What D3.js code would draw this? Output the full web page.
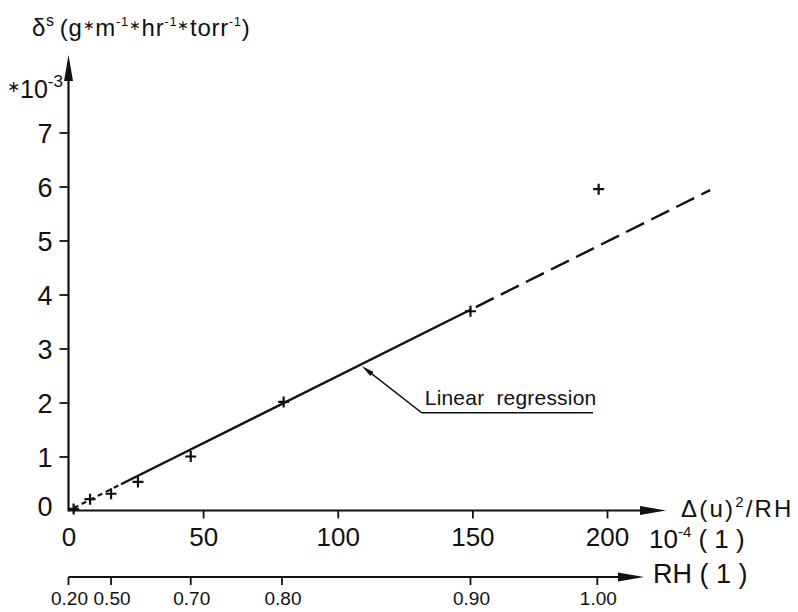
<!DOCTYPE html>
<html>
<head>
<meta charset="utf-8">
<script src="https://cdn.jsdelivr.net/npm/d3@7"></script>
<style>
  body { margin: 0; background: #fff; }
  text { font-family: "Liberation Sans", Arial, sans-serif; fill: #111; }
</style>
</head>
<body>
<svg id="chart" width="798" height="612"></svg>
<script>
// Axis ticks
const xTicks = [0, 50, 100, 150, 200];          // Δ(u)²/RH, units of 10⁻⁴
const yTicks = [0, 1, 2, 3, 4, 5, 6, 7];        // δs, units of 10⁻³
// Secondary relative-humidity scale: label and the Δ(u)²/RH value it sits at
const rhLabels = ["0.20", "0.50", "0.70", "0.80", "0.90", "1.00"];
const rhAt = [0, 15.8, 45.4, 79.3, 149.3, 196.4];
// Measurements
const ratio = [1.9, 8.0, 15.8, 25.8, 45.4, 79.9, 149.3, 196.9];
const delta = [0.03, 0.21, 0.31, 0.53, 1.00, 2.01, 3.69, 5.95];
// Linear regression δs = a + b·Δ(u)²/RH, drawn short-dashed / solid / long-dashed
const regSlope = 0.0249;
const regIntercept = 0.0;
const regBreaks = [1.9, 19.5, 149.3, 238.3];

const svg = d3.select("#chart");
const ink = "#111";
const FONT = '"Liberation Sans", Arial, sans-serif';

const x = d3.scaleLinear().domain([0, 200]).range([68.5, 607]);
const y = d3.scaleLinear().domain([0, 7]).range([510.5, 132.5]);
const x0 = x(0), y0 = y(0);

function arrowHead(g, tipX, tipY, dx, dy, len, half) {
  const px = -dy, py = dx;
  const bx = tipX - dx * len, by = tipY - dy * len;
  g.append("path")
    .attr("d", `M${tipX},${tipY}L${bx + px * half},${by + py * half}L${bx - px * half},${by - py * half}Z`)
    .attr("fill", ink);
}

// ---- main axes with arrows
const axes = svg.append("g");
const xEnd = 666, yTop = 55;
axes.append("line").attr("x1", x0).attr("x2", xEnd - 20).attr("y1", y0).attr("y2", y0)
  .attr("stroke", ink).attr("stroke-width", 2.2);
arrowHead(axes, xEnd, y0, 1, 0, 26, 4.5);
axes.append("line").attr("x1", x0).attr("x2", x0).attr("y1", y0 + 1).attr("y2", yTop + 20)
  .attr("stroke", ink).attr("stroke-width", 2.2);
arrowHead(axes, x0, yTop, 0, -1, 26, 4.5);

// x ticks and labels
const xAxis = d3.axisBottom(x).tickValues(xTicks).tickFormat(d3.format("d"))
  .tickSize(8).tickSizeOuter(0).tickPadding(9);
const gx = svg.append("g").attr("transform", `translate(0,${y0})`).call(xAxis);
gx.select(".domain").remove();
gx.selectAll(".tick line").attr("stroke", ink).attr("stroke-width", 1.8)
  .attr("opacity", d => d === 0 ? 0 : 1);
gx.selectAll(".tick text").attr("fill", ink).style("font-size", "26px").style("font-family", FONT);

// y ticks and labels
const yAxis = d3.axisLeft(y).tickValues(yTicks).tickFormat(d3.format("d"))
  .tickSize(9).tickSizeOuter(0).tickPadding(7);
const gy = svg.append("g").attr("transform", `translate(${x0},0)`).call(yAxis);
gy.select(".domain").remove();
gy.selectAll(".tick line").attr("stroke", ink).attr("stroke-width", 1.8)
  .attr("opacity", d => d === 0 ? 0 : 1);
gy.selectAll(".tick text").attr("fill", ink).style("font-size", "27px").style("font-family", FONT)
  .attr("dy", d => d === 0 ? "0.2em" : "0.36em");

// ---- relative humidity scale below
const rhY = 577, rhEnd = 644;
const rh = svg.append("g");
rh.append("line").attr("x1", x0).attr("x2", rhEnd - 20).attr("y1", rhY).attr("y2", rhY)
  .attr("stroke", ink).attr("stroke-width", 1.8);
arrowHead(rh, rhEnd, rhY, 1, 0, 26, 4.5);
rh.selectAll("line.rt").data(rhAt).join("line").attr("class", "rt")
  .attr("x1", d => x(d)).attr("x2", d => x(d)).attr("y1", rhY).attr("y2", rhY + 8)
  .attr("stroke", ink).attr("stroke-width", 1.8);
rh.selectAll("text.rl").data(rhLabels).join("text").attr("class", "rl")
  .attr("x", (d, i) => x(rhAt[i]) + 1).attr("y", rhY + 28)
  .attr("text-anchor", "middle").style("font-size", "19px").text(d => d);
rh.append("text").attr("x", 653).attr("y", rhY + 6).style("font-size", "27px")
  .attr("xml:space", "preserve").text("RH ( 1 )");

// ---- axis titles built from runs: [text, baseline shift (px, up < 0), size, dx]
function rich(parent, xPos, yPos, size, parts, spacing) {
  const t = parent.append("text").attr("x", xPos).attr("y", yPos)
    .style("font-size", size + "px").attr("xml:space", "preserve");
  if (spacing) t.style("letter-spacing", spacing + "px");
  let shifted = 0;
  parts.forEach(([s, shift, fs, dx]) => {
    const target = shift || 0;
    const ts = t.append("tspan").attr("dy", target - shifted).text(s);
    if (fs) ts.style("font-size", fs + "px");
    if (dx) ts.attr("dx", dx);
    shifted = target;
  });
  return t;
}

const star = 14, starUp = -6, sup = -10;
rich(svg, 32, 36, 24, [["δ"], ["s", sup, 16], ["(", 0, 0, 5], ["g"], ["∗", starUp, star], ["m"],
  ["-1", sup, 13], ["∗", starUp, star], ["hr"], ["-1", sup, 13], ["∗", starUp, star],
  ["torr"], ["-1", sup, 13], [")"]], 0.7);
rich(svg, 7, 98, 25, [["∗", -6, 16], ["10"], ["-3", -11, 17]]);
rich(svg, 681, 517, 24, [["Δ(u)"], ["2", -10, 15], ["/RH"]], 2.2);
rich(svg, 649, 548, 26, [["10"], ["-4", -11, 15], [" ( 1 )"]]);

// ---- regression line
const reg = v => regIntercept + regSlope * v;
const regStyles = [
  { dash: "5,4", w: 2.2 },
  { dash: null, w: 2.4 },
  { dash: "20,8", w: 2.4, offset: -6 }
];
for (let i = 0; i < regBreaks.length - 1; i++) {
  const a = regBreaks[i], b = regBreaks[i + 1], s = regStyles[i];
  const ln = svg.append("line")
    .attr("x1", x(a)).attr("y1", y(reg(a))).attr("x2", x(b)).attr("y2", y(reg(b)))
    .attr("stroke", ink).attr("stroke-width", s.w);
  if (s.dash) ln.attr("stroke-dasharray", s.dash);
  if (s.offset) ln.attr("stroke-dashoffset", s.offset);
}

// ---- measured points as plus markers
const pts = svg.append("g").attr("stroke", ink).attr("stroke-width", 2.2);
pts.selectAll("path").data(ratio).join("path")
  .attr("d", (d, i) => {
    const cx = x(d), cy = y(delta[i]), r = 5.5;
    return `M${cx - r},${cy}H${cx + r}M${cx},${cy - r}V${cy + r}`;
  });

// ---- annotation
const noteAt = 108.9;
const tipX = x(noteAt), tipY = y(reg(noteAt)) + 2;
const elbowX = x(131.2), elbowY = y(1.81);
const ulEnd = x(194.8);
const ann = svg.append("g");
ann.append("path")
  .attr("d", `M${tipX + 4},${tipY + 3}L${elbowX},${elbowY}H${ulEnd}`)
  .attr("fill", "none").attr("stroke", ink).attr("stroke-width", 1.5);
const len = Math.hypot(elbowX - tipX, elbowY - tipY);
arrowHead(ann, tipX, tipY, (tipX - elbowX) / len, (tipY - elbowY) / len, 13, 2.6);
ann.append("text").attr("x", elbowX + 3).attr("y", elbowY - 8)
  .style("font-size", "21px").style("letter-spacing", "0.2px")
  .attr("xml:space", "preserve").text("Linear  regression");
</script>
</body>
</html>
